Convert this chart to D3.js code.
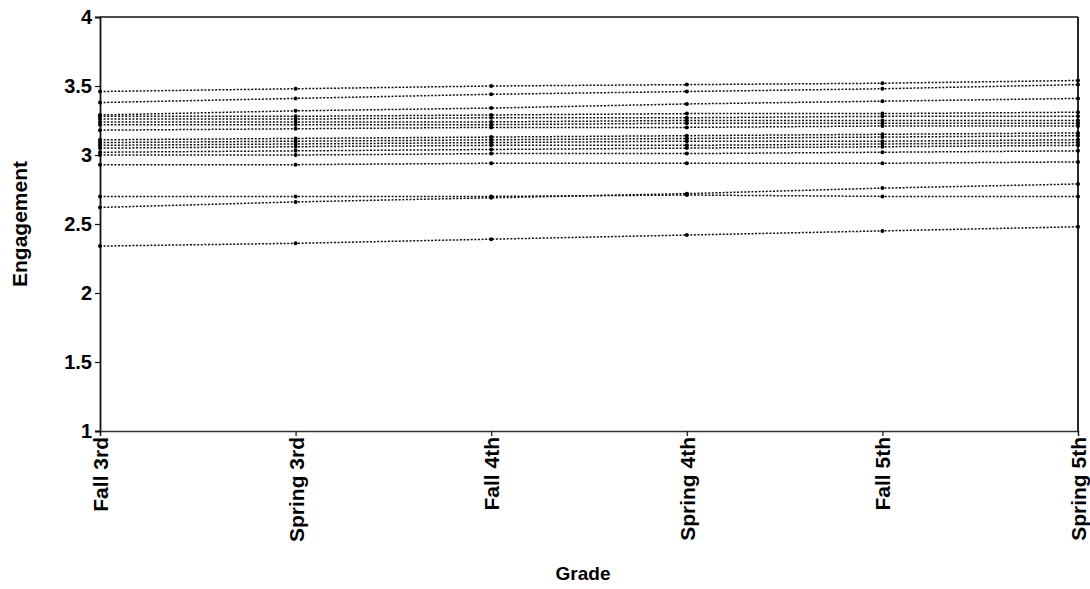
<!DOCTYPE html>
<html>
<head>
<meta charset="utf-8">
<script src="https://cdn.jsdelivr.net/npm/d3@7"></script>
<style>
  html, body { margin: 0; padding: 0; background: #fff; }
  svg { display: block; }
  text { font-family: "Liberation Sans", Arial, sans-serif; font-weight: bold; fill: #000; }
</style>
</head>
<body>
<svg id="chart" width="1090" height="589"></svg>
<script>
// ---- data ----
const grades = ["Fall 3rd", "Spring 3rd", "Fall 4th", "Spring 4th", "Fall 5th", "Spring 5th"];
const yTicks = [1, 1.5, 2, 2.5, 3, 3.5, 4];

const s01 = [3.46, 3.48, 3.50, 3.51, 3.52, 3.54];
const s02 = [3.38, 3.41, 3.44, 3.46, 3.48, 3.51];
const s03 = [3.29, 3.32, 3.34, 3.37, 3.39, 3.41];
const s04 = [3.28, 3.28, 3.29, 3.30, 3.30, 3.31];
const s05 = [3.26, 3.26, 3.27, 3.27, 3.28, 3.28];
const s06 = [3.24, 3.24, 3.24, 3.25, 3.25, 3.25];
const s07 = [3.22, 3.22, 3.22, 3.23, 3.23, 3.23];
const s08 = [3.18, 3.19, 3.20, 3.20, 3.21, 3.21];
const s09 = [3.11, 3.12, 3.13, 3.14, 3.15, 3.16];
const s10 = [3.09, 3.10, 3.11, 3.12, 3.13, 3.14];
const s11 = [3.07, 3.08, 3.09, 3.10, 3.10, 3.11];
const s12 = [3.05, 3.06, 3.07, 3.07, 3.08, 3.09];
const s13 = [3.02, 3.03, 3.04, 3.05, 3.06, 3.07];
const s14 = [3.00, 3.00, 3.01, 3.01, 3.02, 3.03];
const s15 = [2.93, 2.93, 2.94, 2.94, 2.94, 2.95];
const s16 = [2.70, 2.70, 2.70, 2.71, 2.70, 2.70];
const s17 = [2.62, 2.66, 2.69, 2.72, 2.76, 2.79];
const s18 = [2.34, 2.36, 2.39, 2.42, 2.45, 2.48];
const series = [s01, s02, s03, s04, s05, s06, s07, s08, s09, s10, s11, s12, s13, s14, s15, s16, s17, s18];

// ---- layout ----
const svg = d3.select("#chart");
const mLeft = 100, mRight = 1078, mTop = 17, mBottom = 431;

const x = d3.scalePoint().domain(grades).range([mLeft, mRight]);
const y = d3.scaleLinear().domain([1, 4]).range([mBottom, mTop]);

// frame (top and right border)
svg.append("line").attr("x1", mLeft).attr("x2", mRight).attr("y1", mTop).attr("y2", mTop)
  .attr("stroke", "#111").attr("stroke-width", 1.4);
svg.append("line").attr("x1", mRight).attr("x2", mRight).attr("y1", mTop).attr("y2", mBottom)
  .attr("stroke", "#111").attr("stroke-width", 1.8);

// y axis
const yAxis = d3.axisLeft(y).tickValues(yTicks).tickSize(5).tickPadding(3)
  .tickFormat(d => d3.format("")(d));
const gy = svg.append("g").attr("transform", `translate(${mLeft},0)`).call(yAxis);
gy.select(".domain").attr("stroke", "#111").attr("stroke-width", 1.8);
gy.selectAll(".tick line").attr("stroke", "#111").attr("stroke-width", 1.2);
gy.selectAll(".tick text").attr("font-size", 20).attr("font-family", "Liberation Sans, Arial, sans-serif")
  .attr("font-weight", "bold").attr("fill", "#000");

// x axis
const xAxis = d3.axisBottom(x).tickSize(5).tickPadding(0);
const gx = svg.append("g").attr("transform", `translate(0,${mBottom})`).call(xAxis);
gx.select(".domain").attr("stroke", "#333").attr("stroke-width", 1.4);
gx.selectAll(".tick line").attr("stroke", "#111").attr("stroke-width", 1.2);
gx.selectAll(".tick text")
  .attr("font-size", 21).attr("font-family", "Liberation Sans, Arial, sans-serif")
  .attr("font-weight", "bold").attr("fill", "#000")
  .attr("text-anchor", "end")
  .attr("transform", "translate(0,6) rotate(-90)")
  .attr("x", 0).attr("y", 0).attr("dy", "0.36em");

// lines
const line = d3.line().x((d, i) => x(grades[i])).y(d => y(d));
const gl = svg.append("g");
series.forEach(s => {
  gl.append("path").datum(s).attr("d", line)
    .attr("fill", "none").attr("stroke", "#111").attr("stroke-width", 1.5)
    .attr("stroke-dasharray", "2,1.6");
  gl.selectAll(null).data(s).enter().append("circle")
    .attr("cx", (d, i) => x(grades[i])).attr("cy", d => y(d)).attr("r", 2)
    .attr("fill", "#000");
});

// axis titles
svg.append("text").attr("transform", `translate(27,${(mTop + mBottom) / 2}) rotate(-90)`)
  .attr("text-anchor", "middle").attr("font-size", 21).text("Engagement");
svg.append("text").attr("x", 583).attr("y", 580)
  .attr("text-anchor", "middle").attr("font-size", 19).text("Grade");
</script>
</body>
</html>
